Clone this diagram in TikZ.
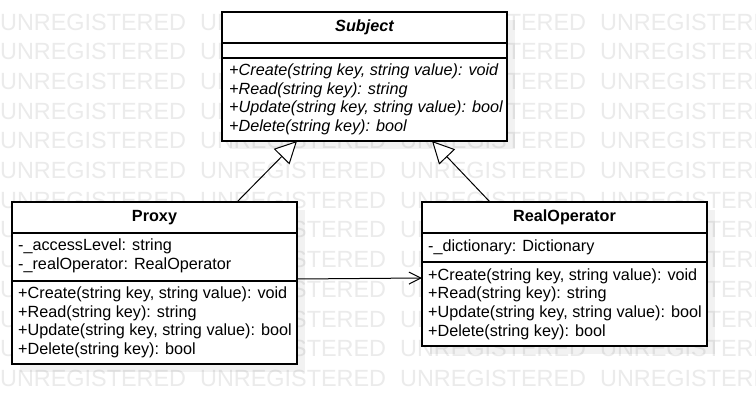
\documentclass[tikz,border=0pt]{standalone}
\usepackage{fontspec}
\setmainfont{Liberation Sans}
\usetikzlibrary{arrows.meta}
\begin{document}
\begin{tikzpicture}[x=1pt,y=1pt,
  comp/.style={draw, line width=1.1pt, fill=white, anchor=north west, inner sep=0pt, outer sep=0pt, minimum width=285pt},
  txt/.style={anchor=west, align=left, inner sep=0pt, font=\fontsize{16.2}{18.6}\selectfont},
  ttl/.style={inner sep=0pt, font=\fontsize{16.2}{18.6}\selectfont\bfseries},
  wm/.style={anchor=west, inner sep=0pt, text=black!8, font=\fontsize{23.4}{24}\selectfont},
  shadowbox/.style={fill=black, opacity=0.05},
  gen/.style={line width=1pt, -{Triangle[length=22pt, width=22pt, fill=white]}},
  assoc/.style={line width=1pt, -{Straight Barb[length=12pt, width=12pt]}}
]
\useasboundingbox (0,0) rectangle (756,-415);
\fill[white] (0,0) rectangle (756,-415);
% watermark
\begin{scope}
\clip (0,0) rectangle (756,-415);
\foreach \j in {0,...,12}{
  \foreach \i in {0,...,3}{
    \node[wm] (wm-\i-\j) at (200*\i, -22-29.7*\j) {UNREGISTERED};
  }
}
\end{scope}
% shadows
\fill[shadowbox] (230,-20) rectangle (515,-149);
\fill[shadowbox] (20,-210) rectangle (305,-372);
\fill[shadowbox] (430,-210) rectangle (715,-354);
% Subject
\node[comp, minimum height=31pt] (subjT) at (222,-12) {};
\node[ttl] (subjTt) at (subjT.center) {\itshape Subject};
\node[comp, minimum height=15pt] (subjA) at (subjT.south west) {};
\node[comp, minimum height=83pt] (subjM) at (subjA.south west) {};
\node[txt] (subjMt) at ([xshift=7pt]subjM.west) {\itshape +Create(string key, string value): void\\ \itshape +Read(string key): string\\ \itshape +Update(string key, string value): bool\\ \itshape +Delete(string key): bool};
% Proxy
\node[comp, minimum height=31pt] (proxyT) at (12,-202) {};
\node[ttl] (proxyTt) at (proxyT.center) {Proxy};
\node[comp, minimum height=48pt] (proxyA) at (proxyT.south west) {};
\node[txt] (proxyAt) at ([xshift=6pt,yshift=1pt]proxyA.west) {-\_accessLevel: string\\-\_realOperator: RealOperator};
\node[comp, minimum height=83pt] (proxyM) at (proxyA.south west) {};
\node[txt] (proxyMt) at ([xshift=6pt]proxyM.west) {+Create(string key, string value): void\\+Read(string key): string\\+Update(string key, string value): bool\\+Delete(string key): bool};
% RealOperator
\node[comp, minimum height=31pt] (realT) at (422,-202) {};
\node[ttl] (realTt) at (realT.center) {RealOperator};
\node[comp, minimum height=29pt] (realA) at (realT.south west) {};
\node[txt] (realAt) at ([xshift=6pt]realA.west) {-\_dictionary: Dictionary};
\node[comp, minimum height=84pt] (realM) at (realA.south west) {};
\node[txt] (realMt) at ([xshift=6pt]realM.west) {+Create(string key, string value): void\\+Read(string key): string\\+Update(string key, string value): bool\\+Delete(string key): bool};
% connectors
\draw[gen] ([xshift=82.5pt]proxyT.north) -- ([xshift=-67.5pt]subjM.south);
\draw[gen] ([xshift=-74.5pt]realT.north) -- ([xshift=67.5pt]subjM.south);
\draw[assoc] ([yshift=2pt]proxyA.south east) -- ([yshift=-16pt]realM.north west);
\end{tikzpicture}
\end{document}
